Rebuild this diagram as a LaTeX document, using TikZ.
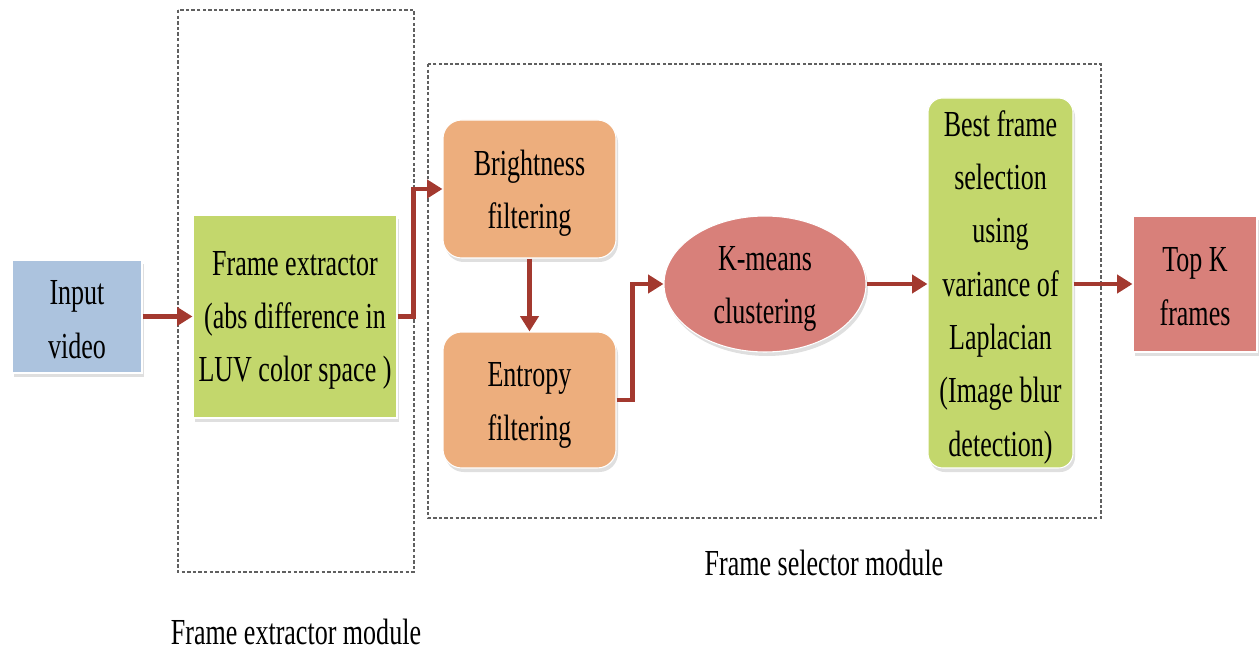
\documentclass[tikz,border=0pt]{standalone}
\usepackage{fontspec}
\setmainfont[FakeStretch=0.71]{Liberation Serif}
\usetikzlibrary{arrows.meta,shapes.geometric,shadows}

\definecolor{boxblue}{HTML}{ACC3DE}
\definecolor{boxgreen}{HTML}{C3D76C}
\definecolor{boxorange}{HTML}{EDAE7D}
\definecolor{boxred}{HTML}{D8807A}
\definecolor{flowred}{HTML}{A3392F}
\definecolor{modgray}{HTML}{606060}

\tikzset{
  txt/.style={font=\fontsize{27.5}{40}\selectfont, align=center, text=black, inner sep=0pt},
  block/.style={draw=white, line width=0.8pt, inner sep=0pt,
    drop shadow={opacity=0.25, shadow xshift=1.5pt, shadow yshift=-3pt}},
  sqbox/.style={block, rectangle},
  rdbox/.style={block, rectangle, rounded corners=14pt},
  oval/.style={block, ellipse},
  flow/.style={draw=flowred, line width=3.6pt,
    -{Triangle[length=11.5pt,width=13.5pt]}},
  modbox/.style={draw=modgray, line width=1.3pt, dash pattern=on 2.6pt off 1.6pt},
  modlabel/.style={font=\fontsize{27.5}{30}\selectfont, text=black}
}

\begin{document}
\begin{tikzpicture}[x=0.75pt, y=-0.75pt]
  \useasboundingbox (0,0) rectangle (1259,652);

  % module frames
  \draw[modbox] (178,10) rectangle (414,572);
  \draw[modbox] (428,64) rectangle (1101,518);
  \node[modlabel] (lblext) at (296,632) {Frame extractor module};
  \node[modlabel] (lblsel) at (824,563) {Frame selector module};

  % processing blocks
  \node[sqbox, fill=boxblue, minimum width=97.5pt, minimum height=84.75pt]
    (in) at (77,316.5) {};
  \node[sqbox, fill=boxgreen, minimum width=153pt, minimum height=152.25pt]
    (fe) at (295,316.5) {};
  \node[rdbox, fill=boxorange, minimum width=129.75pt, minimum height=103.5pt]
    (br) at (529.5,189) {};
  \node[rdbox, fill=boxorange, minimum width=129.75pt, minimum height=102pt]
    (en) at (529.5,400) {};
  \node[oval, fill=boxred, minimum width=151.5pt, minimum height=102pt]
    (km) at (765,284) {};
  \node[rdbox, rounded corners=11pt, fill=boxgreen, minimum width=108.75pt, minimum height=277.5pt]
    (bf) at (1000.5,283) {};
  \node[sqbox, fill=boxred, minimum width=93pt, minimum height=102pt]
    (tk) at (1195,284) {};

  % block captions
  \node[txt] (in-t) at ([yshift=-2.5pt]in.center) {Input\\video};
  \node[txt] (fe-t) at ([yshift=-3pt]fe.center) {Frame extractor\\(abs difference in\\LUV color space )};
  \node[txt] (br-t) at ([yshift=-3pt]br.center) {Brightness\\filtering};
  \node[txt] (en-t) at ([yshift=-4pt]en.center) {Entropy\\filtering};
  \node[txt] (km-t) at ([yshift=-3.5pt]km.center) {K-means\\clustering};
  \node[txt] (bf-t) at ([yshift=-3pt]bf.center) {Best frame\\selection\\using\\variance of\\Laplacian\\(Image blur\\detection)};
  \node[txt] (tk-t) at ([yshift=-2pt]tk.center) {Top K\\frames};

  % data flow
  \draw[flow] (in.east) -- (fe.west);
  \draw[flow] (fe.east) -- ++(16,0) |- (br.west);
  \draw[flow] (br.south) -- (en.north);
  \draw[flow] (en.east) -- ++(16,0) |- (km.west);
  \draw[flow] (km.east) -- (km.east -| bf.west);
  \draw[flow] (bf.east |- tk.west) -- (tk.west);
\end{tikzpicture}
\end{document}
